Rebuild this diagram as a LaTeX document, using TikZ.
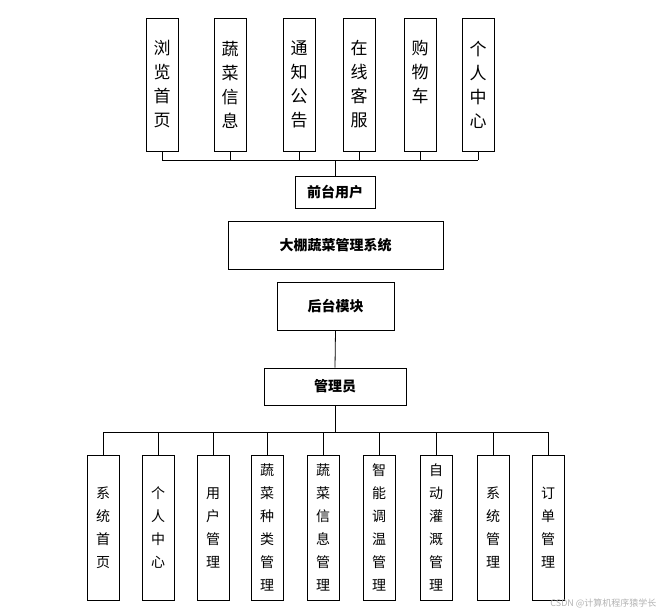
\documentclass[tikz,border=0pt]{standalone}
\usepackage{fontspec}
\setmainfont{Noto Sans CJK SC}
\begin{document}
\begin{tikzpicture}[x=1pt,y=-1pt,
  box/.style={draw,line width=0.8pt,fill=white,inner sep=0pt},
  topbox/.style={box,minimum width=32pt,minimum height=133pt,font=\fontsize{17}{24}\selectfont,align=center},
  botbox/.style={box,minimum width=32pt,minimum height=145pt,font=\fontsize{14}{23}\selectfont,align=center},
  midbox/.style={box,font=\fontsize{14}{16}\selectfont\bfseries},
  ln/.style={line width=0.8pt}]
\useasboundingbox (0,0) rectangle (665,616);
\foreach \n/\x/\t in {t1/162/浏\\览\\首\\页, t2/230/蔬\\菜\\信\\息, t3/299/通\\知\\公\\告, t4/359/在\\线\\客\\服, t5/420/购\\物\\车\\\phantom{车}, t6/478/个\\人\\中\\心}
  \node[topbox] (\n) at (\x,84.5) {\t};
\node[midbox,minimum width=80pt,minimum height=32pt] (front) at (335,192) {前台用户};
\node[midbox,minimum width=215pt,minimum height=48pt] (sys) at (335.5,245) {大棚蔬菜管理系统};
\node[midbox,minimum width=117pt,minimum height=48pt] (back) at (335.5,306) {后台模块};
\node[midbox,minimum width=142pt,minimum height=37pt] (admin) at (335,386.5) {管理员};
\foreach \n/\x/\t in {b1/103/系\\统\\首\\页, b2/158/个\\人\\中\\心, b3/213/用\\户\\管\\理, b4/267/蔬\\菜\\种\\类\\管\\理, b5/323/蔬\\菜\\信\\息\\管\\理, b6/379/智\\能\\调\\温\\管\\理, b7/436/自\\动\\灌\\溉\\管\\理, b8/493/系\\统\\管\\理, b9/548/订\\单\\管\\理}
  \node[botbox] (\n) at (\x,527.5) {\t};
\coordinate (bT) at (335,160);
\coordinate (bB) at (335,432);
\draw[ln] (t1.south |- bT) -- (t6.south |- bT);
\foreach \n in {t1,t2,t3,t4,t5,t6} \draw[ln] (\n.south) -- (\n.south |- bT);
\draw[ln] (bT) -- (front.north);
\draw[ln] (back.south) -- (admin.north);
\draw[ln] (admin.south) -- (bB);
\draw[ln] (b1.north |- bB) -- (b9.north |- bB);
\foreach \n in {b1,b2,b3,b4,b5,b6,b7,b8,b9} \draw[ln] (\n.north) -- (\n.north |- bB);
\node[text=gray!60,font=\fontsize{9}{10}\selectfont,anchor=south east] (wm) at (660,612) {CSDN @计算机程序猿学长};
\end{tikzpicture}
\end{document}
